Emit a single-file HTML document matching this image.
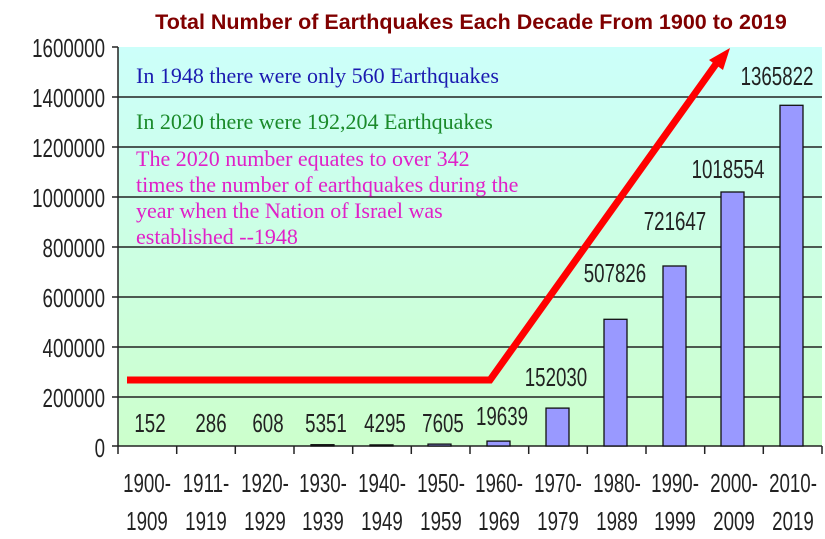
<!DOCTYPE html>
<html><head><meta charset="utf-8"><style>
body{margin:0;background:#fff;}
svg{display:block}
.n text{font-family:"Liberation Sans",sans-serif;font-size:26px;fill:#222;transform-box:fill-box;transform-origin:center;transform:scaleX(0.72)}
.y text{transform-origin:right}
.s{font-family:"Liberation Serif",serif;font-size:22px}
</style></head><body>
<svg width="825" height="539" viewBox="0 0 825 539" xmlns="http://www.w3.org/2000/svg">
<defs><linearGradient id="g" x1="0" y1="0" x2="0" y2="1">
<stop offset="0" stop-color="#ccfffa"/><stop offset="1" stop-color="#ccffcc"/></linearGradient></defs>
<rect x="118" y="47" width="704" height="399" fill="url(#g)"/>
<g stroke="#222" stroke-width="1.5">
<line x1="112" y1="47" x2="118" y2="47"/>
<line x1="112" y1="97" x2="822" y2="97"/>
<line x1="112" y1="147" x2="822" y2="147"/>
<line x1="112" y1="197" x2="822" y2="197"/>
<line x1="112" y1="247" x2="822" y2="247"/>
<line x1="112" y1="297" x2="822" y2="297"/>
<line x1="112" y1="347" x2="822" y2="347"/>
<line x1="112" y1="397" x2="822" y2="397"/>
<line x1="118" y1="47" x2="118" y2="446"/>
<line x1="112" y1="446" x2="822" y2="446"/>
</g>
<g stroke="#222" stroke-width="1.5">
<line x1="118" y1="446" x2="118" y2="454"/><line x1="176.7" y1="446" x2="176.7" y2="454"/><line x1="235.3" y1="446" x2="235.3" y2="454"/><line x1="294" y1="446" x2="294" y2="454"/><line x1="352.7" y1="446" x2="352.7" y2="454"/><line x1="411.3" y1="446" x2="411.3" y2="454"/><line x1="470" y1="446" x2="470" y2="454"/><line x1="528.7" y1="446" x2="528.7" y2="454"/><line x1="587.3" y1="446" x2="587.3" y2="454"/><line x1="646" y1="446" x2="646" y2="454"/><line x1="704.7" y1="446" x2="704.7" y2="454"/><line x1="763.3" y1="446" x2="763.3" y2="454"/><line x1="822" y1="446" x2="822" y2="454"/>
</g>
<g fill="#9999ff" stroke="#111" stroke-width="1.3">
<rect x="311" y="444.7" width="23" height="1.3"/>
<rect x="370" y="444.9" width="23" height="1.1"/>
<rect x="428" y="444.1" width="23" height="1.9"/>
<rect x="487" y="441.1" width="23" height="4.9"/>
<rect x="546" y="408.1" width="23" height="37.9"/>
<rect x="604" y="319.3" width="23" height="126.7"/>
<rect x="663" y="266" width="23" height="180"/>
<rect x="721" y="192" width="23" height="254"/>
<rect x="780" y="105.3" width="23" height="340.7"/>
</g>
<polyline points="127,380 490,380 716,64" fill="none" stroke="#ff0000" stroke-width="7"/>
<polygon points="730,48 709,60 723,70" fill="#ff0000"/>
<g class="n y" text-anchor="end">
<text x="105" y="57">1600000</text><text x="105" y="107">1400000</text><text x="105" y="157">1200000</text><text x="105" y="207">1000000</text><text x="105" y="257">800000</text><text x="105" y="307">600000</text><text x="105" y="357">400000</text><text x="105" y="407">200000</text><text x="105" y="457">0</text>
</g>
<g class="n" text-anchor="middle">
<text x="150" y="432">152</text><text x="211" y="432">286</text><text x="268" y="432">608</text><text x="326" y="432">5351</text><text x="385" y="432">4295</text><text x="443" y="432">7605</text><text x="502" y="425">19639</text><text x="556" y="386">152030</text><text x="615" y="282">507826</text><text x="675" y="230">721647</text><text x="728" y="178">1018554</text><text x="777" y="85">1365822</text>
</g>
<g class="n" text-anchor="middle">
<text x="147" y="492">1900-</text><text x="147" y="530">1909</text>
<text x="206" y="492">1911-</text><text x="206" y="530">1919</text>
<text x="265" y="492">1920-</text><text x="265" y="530">1929</text>
<text x="323" y="492">1930-</text><text x="323" y="530">1939</text>
<text x="382" y="492">1940-</text><text x="382" y="530">1949</text>
<text x="441" y="492">1950-</text><text x="441" y="530">1959</text>
<text x="499" y="492">1960-</text><text x="499" y="530">1969</text>
<text x="558" y="492">1970-</text><text x="558" y="530">1979</text>
<text x="617" y="492">1980-</text><text x="617" y="530">1989</text>
<text x="675" y="492">1990-</text><text x="675" y="530">1999</text>
<text x="734" y="492">2000-</text><text x="734" y="530">2009</text>
<text x="793" y="492">2010-</text><text x="793" y="530">2019</text>
</g>
<text x="471" y="29" text-anchor="middle" font-family="Liberation Sans,sans-serif" font-weight="bold" font-size="21.5" fill="#800000">Total Number of Earthquakes Each Decade From 1900 to 2019</text>
<text class="s" x="136" y="83" fill="#1a1ab0">In 1948 there were only 560 Earthquakes</text>
<text class="s" x="136" y="129" fill="#1a8a2a">In 2020 there were  192,204  Earthquakes</text>
<g class="s" fill="#e020c8">
<text x="136" y="166">The 2020 number equates to over 342</text>
<text x="136" y="192">times the number of earthquakes during the</text>
<text x="136" y="218">year when the Nation of Israel was</text>
<text x="136" y="244">established --1948</text>
</g>
</svg>
</body></html>
